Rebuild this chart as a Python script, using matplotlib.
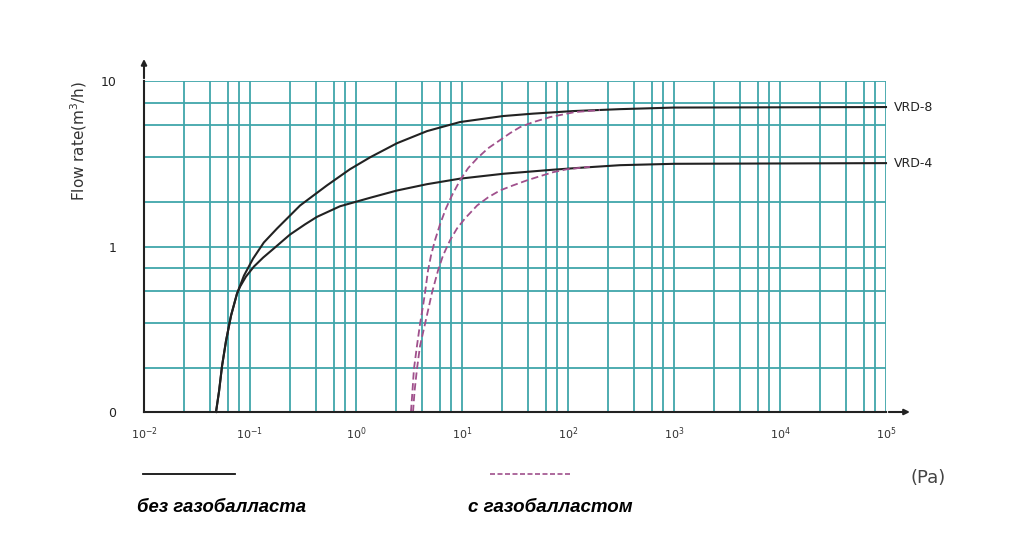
import numpy as np
import matplotlib
matplotlib.use('Agg')
import matplotlib.pyplot as plt
from matplotlib.ticker import FixedLocator, FixedFormatter
from matplotlib.lines import Line2D

# Pressure (Pa) / flow rate (m3/h)
vrd8_p = [0.0478, 0.0511, 0.0545, 0.0594, 0.0662, 0.0754, 0.0877, 0.107, 0.135, 0.180, 0.297, 0.532,
          0.877, 1.36, 2.44, 4.68, 9.58, 24.4, 46.8, 111, 310, 1000, 1e5]
vrd8_q = [0.1, 0.134, 0.190, 0.269, 0.382, 0.519, 0.667, 0.846, 1.057, 1.285, 1.77, 2.34,
          2.93, 3.46, 4.21, 4.98, 5.65, 6.14, 6.35, 6.58, 6.76, 6.91, 6.96]
vrd4_p = [0.0478, 0.0511, 0.0545, 0.0594, 0.0662, 0.0754, 0.0806, 0.0916, 0.109, 0.133, 0.172, 0.238,
          0.330, 0.428, 0.706, 1.36, 2.44, 4.68, 9.58, 24.4, 72.1, 130, 310, 1000, 1e5]
vrd4_q = [0.1, 0.134, 0.190, 0.269, 0.382, 0.519, 0.572, 0.658, 0.757, 0.857, 0.986, 1.18,
          1.36, 1.51, 1.75, 1.97, 2.18, 2.38, 2.57, 2.75, 2.91, 2.99, 3.10, 3.16, 3.19]
vrd8_gb_p = [3.30, 3.41, 3.52, 3.76, 4.02, 4.29, 4.48, 4.78, 5.10, 5.56, 6.20, 7.06, 8.05, 9.58,
             11.4, 13.9, 17.6, 22.8, 28.4, 35.2, 46.8, 67.6, 116, 200]
vrd8_gb_q = [0.1, 0.134, 0.182, 0.251, 0.341, 0.438, 0.526, 0.716, 0.882, 1.09, 1.36, 1.70, 2.04, 2.51,
             2.97, 3.41, 3.92, 4.39, 4.84, 5.26, 5.64, 6.05, 6.49, 6.67]
vrd4_gb_p = [3.45, 3.57, 3.76, 4.02, 4.48, 4.89, 5.21, 5.94, 6.62, 7.71, 8.97, 10.7, 13.9, 17.6,
             22.8, 30.3, 41.0, 54.5, 72.1, 97.9, 161]
vrd4_gb_q = [0.1, 0.134, 0.182, 0.251, 0.341, 0.438, 0.526, 0.716, 0.882, 1.09, 1.285, 1.48, 1.77, 1.98,
             2.18, 2.34, 2.51, 2.66, 2.81, 2.93, 3.03]

x_decades = [1e-2, 1e-1, 1e0, 1e1, 1e2, 1e3, 1e4, 1e5]
x_labels = ['$10^{-2}$', '$10^{-1}$', '$10^{0}$', '$10^{1}$', '$10^{2}$', '$10^{3}$', '$10^{4}$', '$10^{5}$']
y_decades = [0.1, 1, 10]
y_labels = ['0', '1', '10']
models = ['VRD-8', 'VRD-4']
legend_labels = ['без газобалласта', 'с газобалластом']

grid_c = '#40a6aa'
gb_c = '#a0508c'
ink = '#222222'

W, H = 1011, 552
fig = plt.figure(figsize=(W/100, H/100), dpi=100)
ax = fig.add_axes([144/W, (H-412)/H, (886-144)/W, (412-81)/H])
ax.set_xscale('log')
ax.set_yscale('log')
ax.set_xlim(1e-2, 1e5)
ax.set_ylim(0.1, 10)

# grid: decades plus uneven sub-lines like the original paper
xminor = [d*m for d in x_decades[:-1] for m in (2.4, 4.2, 6.2, 7.9)]
yminor = [d*m for d in y_decades[:-1] for m in (1.85, 3.45, 5.4, 7.4)]
ax.xaxis.set_major_locator(FixedLocator(x_decades))
ax.xaxis.set_major_formatter(FixedFormatter(x_labels))
ax.xaxis.set_minor_locator(FixedLocator(xminor))
ax.yaxis.set_major_locator(FixedLocator(y_decades))
ax.yaxis.set_major_formatter(FixedFormatter(y_labels))
ax.yaxis.set_minor_locator(FixedLocator(yminor))
ax.xaxis.set_minor_formatter(FixedFormatter([]))
ax.yaxis.set_minor_formatter(FixedFormatter([]))
ax.grid(True, which='both', color=grid_c, linewidth=1.3)
ax.set_axisbelow(True)
ax.tick_params(which='both', length=0)
ax.tick_params(axis='x', pad=10, labelsize=8, colors='#333333')
ax.tick_params(axis='y', pad=20, labelsize=9, colors=ink)
for s in ['top', 'right']:
    ax.spines[s].set_visible(False)
for s in ['left', 'bottom']:
    ax.spines[s].set_linewidth(1.5)
    ax.spines[s].set_color(ink)

# axis arrows
ax.annotate('', xy=(1.036, 0), xytext=(1.0, 0), xycoords='axes fraction',
            arrowprops=dict(arrowstyle='-|>', color=ink, lw=1.5, mutation_scale=8))
ax.annotate('', xy=(0, 1.075), xytext=(0, 1.0), xycoords='axes fraction',
            arrowprops=dict(arrowstyle='-|>', color=ink, lw=1.5, mutation_scale=8))

ax.plot(vrd8_p, vrd8_q, color=ink, lw=1.5, clip_on=False)
ax.plot(vrd4_p, vrd4_q, color=ink, lw=1.5, clip_on=False)
ax.plot(vrd8_gb_p, vrd8_gb_q, color=gb_c, lw=1.3, ls=(0, (4, 2)))
ax.plot(vrd4_gb_p, vrd4_gb_q, color=gb_c, lw=1.3, ls=(0, (4, 2)))

ax.text(1.01, vrd8_q[-1], models[0], transform=ax.get_yaxis_transform(), va='center', ha='left', fontsize=9, color=ink)
ax.text(1.01, vrd4_q[-1], models[1], transform=ax.get_yaxis_transform(), va='center', ha='left', fontsize=9, color=ink)

ax.set_ylabel('Flow rate(m$^3$/h)', fontsize=11, color='#333333')
ax.yaxis.set_label_coords(-0.074, 0.82)

# legend drawn below like the original
fig.add_artist(Line2D([143/W, 235/W], [(H-474)/H]*2, color='#111111', lw=1.3))
fig.add_artist(Line2D([490/W, 572/W], [(H-474)/H]*2, color=gb_c, lw=1.2, ls=(0, (3, 1.5))))
fig.text(137/W, (H-507)/H, legend_labels[0], fontsize=13.3, fontweight='bold', fontstyle='italic',
         family='Liberation Sans', va='center', ha='left')
fig.text(468/W, (H-507)/H, legend_labels[1], fontsize=13.5, fontweight='bold', fontstyle='italic',
         family='Liberation Sans', va='center', ha='left')
fig.text(911/W, (H-478)/H, '(Pa)', fontsize=13, color='#444444', va='center', ha='left')

plt.savefig('out.png', dpi=100)
